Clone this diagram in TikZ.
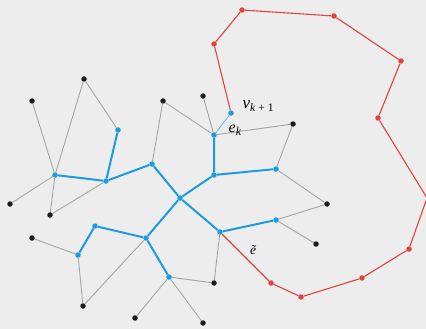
\documentclass[tikz,border=0pt]{standalone}
\usepackage{fontspec}
\setmainfont{Liberation Serif}
\usepackage{tikz}
\usetikzlibrary{backgrounds}
\definecolor{bgc}{RGB}{237,237,237}
\definecolor{treeblue}{RGB}{27,155,224}
\definecolor{lightblue}{RGB}{105,188,236}
\definecolor{cycred}{RGB}{226,68,60}
\definecolor{edgegray}{RGB}{165,165,165}
\definecolor{leafblack}{RGB}{28,28,28}
\tikzset{leaf_t/.style={circle, fill=leafblack, inner sep=0pt, minimum size=5.5pt},
tree_t/.style={circle, fill=treeblue, inner sep=0pt, minimum size=5.5pt},
cyc_t/.style={circle, fill=cycred, inner sep=0pt, minimum size=5.5pt},
plain_e/.style={draw=edgegray, line width=0.9pt},
tree_e/.style={draw=treeblue, line width=2pt},
cyc_e/.style={draw=cycred, line width=1.1pt},
new_e/.style={draw=lightblue, line width=0.9pt},
lbl/.style={inner sep=0pt, anchor=base west}}
\newcommand{\fsz}[1]{\fontsize{#1}{#1}\selectfont}

\begin{document}
\begin{tikzpicture}[x=1pt, y=-1pt]
  \begin{scope}[on background layer]
    \fill[bgc] (0,0) rectangle (426,329);
  \end{scope}
  \useasboundingbox (0,0) rectangle (426,329);
  % leaves
  \node[leaf_t] (l1) at (32,101) {};
  \node[leaf_t] (l2) at (84,79) {};
  \node[leaf_t] (l3) at (163,101) {};
  \node[leaf_t] (l4) at (203,96) {};
  \node[leaf_t] (l5) at (293,124) {};
  \node[leaf_t] (l6) at (10,204) {};
  \node[leaf_t] (l7) at (50,215) {};
  \node[leaf_t] (l8) at (32,238) {};
  \node[leaf_t] (l9) at (327,204) {};
  \node[leaf_t] (l10) at (316,244) {};
  \node[leaf_t] (l11) at (83,306) {};
  \node[leaf_t] (l12) at (135,318) {};
  \node[leaf_t] (l13) at (203,323) {};
  \node[leaf_t] (l14) at (214,283) {};
  % tree
  \node[tree_t] (c) at (180,198) {};
  \node[tree_t] (t1) at (152,164) {};
  \node[tree_t] (t2) at (106,181) {};
  \node[tree_t] (t3) at (118,130) {};
  \node[tree_t] (t4) at (55,175) {};
  \node[tree_t] (t5) at (214,175) {};
  \node[tree_t] (t6) at (214,135) {};
  \node[tree_t] (t7) at (276,169) {};
  \node[tree_t] (t8) at (220,232) {};
  \node[tree_t] (t9) at (276,220) {};
  \node[tree_t] (t10) at (146,238) {};
  \node[tree_t] (t11) at (95,226) {};
  \node[tree_t] (t12) at (78,255) {};
  \node[tree_t] (t13) at (169,277) {};
  \node[tree_t] (vn) at (231,113) {};
  % cycle
  \node[cyc_t] (r1) at (214,44) {};
  \node[cyc_t] (r2) at (242,10) {};
  \node[cyc_t] (r3) at (334,16) {};
  \node[cyc_t] (r4) at (401,61) {};
  \node[cyc_t] (r5) at (378,118) {};
  \coordinate (r6) at (427,198);
  \node[cyc_t] (r7) at (409,249) {};
  \node[cyc_t] (r8) at (362,278) {};
  \node[cyc_t] (r9) at (301,297) {};
  \node[cyc_t] (r10) at (271,283) {};
  % labels
  \node[lbl] (lv) at (242.5,108) {\fsz{17}\textit{v}\raisebox{-3.5pt}{\fsz{11.5}\textit{k} + 1}};
  \node[lbl] (le) at (228.5,132) {\fsz{16}\textit{e}\raisebox{-3.5pt}{\fsz{12}\textit{k}}};
  \node[lbl] (lt) at (250,254.5) {\fsz{13.5}\textit{\~{e}}};
  \begin{scope}[on background layer]
    \draw[plain_e] (l1) -- (t4) -- (l2) -- (t3);
    \draw[plain_e] (l6) -- (t4) -- (l7) -- (t2);
    \draw[plain_e] (t1) -- (l3) -- (t6) -- (l4);
    \draw[plain_e] (t6) -- (l5) -- (t7) -- (l9) -- (t9) -- (l10);
    \draw[plain_e] (l8) -- (t12) -- (l11) -- (t10);
    \draw[plain_e] (l12) -- (t13) -- (l13);
    \draw[plain_e] (t13) -- (l14) -- (t8);
    \draw[new_e] (t6) -- (vn);
    \draw[tree_e] (t4) -- (t2) -- (t3);
    \draw[tree_e] (t2) -- (t1) -- (c) -- (t5) -- (t6);
    \draw[tree_e] (t5) -- (t7);
    \draw[tree_e] (c) -- (t8) -- (t9);
    \draw[tree_e] (c) -- (t10) -- (t11) -- (t12);
    \draw[tree_e] (t10) -- (t13);
    \draw[cyc_e] (vn) -- (r1) -- (r2) -- (r3) -- (r4) -- (r5) -- (r6) -- (r7)
      -- (r8) -- (r9) -- (r10) -- (t8);
  \end{scope}
\end{tikzpicture}
\end{document}
